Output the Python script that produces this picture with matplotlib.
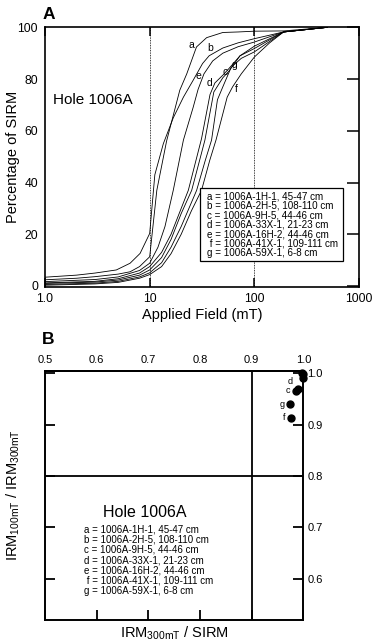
import numpy as np
import matplotlib
matplotlib.use("Agg")
import matplotlib.pyplot as plt
from matplotlib.patches import Rectangle

plt.rcParams["font.family"] = ["Liberation Sans", "DejaVu Sans"]
plt.rcParams["mathtext.default"] = "regular"

# ── Panel A: IRM acquisition curves (applied field in mT, % of SIRM) ──
field_a = [1, 2, 3, 5, 6.5, 8, 10, 11.7, 14.5, 19.4, 22.6, 28, 35, 50, 70, 100, 190, 500]
pct_a = [2.4, 3.0, 3.6, 4.6, 5.5, 7.5, 11.3, 37, 56, 75.7, 82, 92.4, 96, 98, 98.2, 98.5, 98.6, 100]

field_b = [1, 2, 3, 4.8, 6.5, 8.1, 10, 11.2, 13.5, 16.8, 21, 26, 32, 37, 50, 70, 100, 190, 500]
pct_b = [3.4, 4.2, 5.0, 6.2, 8.8, 12.6, 20.3, 43, 55, 65, 73, 79.5, 86, 89, 92, 94, 95.6, 98.2, 100]

field_c = [1, 3, 5, 8, 10, 13, 16, 20, 25.2, 30, 33.7, 41, 50, 57, 73, 100, 190, 500]
pct_c = [1.0, 1.5, 2.3, 4.2, 6.2, 11, 18, 28, 37, 48.6, 56.4, 75, 80.5, 83, 89, 91.8, 98.2, 100]

field_d = [1, 3, 5, 8, 10, 13, 16, 20, 23.4, 27.7, 31.3, 37.7, 42, 50, 57, 73, 100, 190, 500]
pct_d = [1.2, 1.8, 2.8, 5, 7.5, 13, 20, 30, 37, 48.6, 57, 74, 78.5, 81.5, 84, 89, 92.7, 98.2, 100]

field_e = [1, 3, 5, 8, 10, 12, 14, 16.8, 21, 26, 29, 33, 40, 50, 70, 100, 190, 500]
pct_e = [1.7, 2.5, 3.5, 6, 8.8, 15, 23, 37, 56.4, 69, 76, 82, 87, 90, 92.5, 94.3, 98.2, 100]

field_f = [1, 3, 5, 8, 10, 13, 16, 20, 25, 31.3, 37.5, 43, 55, 62, 75, 100, 140, 190, 500]
pct_f = [0.3, 0.8, 1.4, 3, 4.4, 7.5, 12.5, 20, 29, 37, 48.6, 56.4, 73, 77, 82, 88.5, 94, 98.2, 100]

field_g = [1, 3, 5, 8, 10, 13, 16, 20, 28.1, 34, 39, 44.4, 50, 60, 75, 100, 190, 500]
pct_g = [0.6, 1.1, 1.8, 3.5, 5.1, 9, 15, 23, 37, 48.6, 56.4, 72, 77, 84.5, 88, 90.5, 98.2, 100]

sample_keys = ["a", "b", "c", "d", "e", "f", "g"]
sample_names = [
    "1006A-1H-1, 45-47 cm",
    "1006A-2H-5, 108-110 cm",
    "1006A-9H-5, 44-46 cm",
    "1006A-33X-1, 21-23 cm",
    "1006A-16H-2, 44-46 cm",
    "1006A-41X-1, 109-111 cm",
    "1006A-59X-1, 6-8 cm",
]

# ── Panel B: IRM ratios ──
irm300_sirm = [0.997, 0.999, 0.9855, 0.990, 1.000, 0.976, 0.975]
irm100_irm300 = [1.000, 0.998, 0.9655, 0.9695, 0.990, 0.9135, 0.940]
labelled_b = ["c", "d", "f", "g"]

x_ticks_a = [1, 10, 100, 1000]
x_ticklabels_a = ["1.0", "10", "100", "1000"]
y_ticks_a = [0, 20, 40, 60, 80, 100]
ticks_b = [0.5, 0.6, 0.7, 0.8, 0.9, 1.0]

curves = {
    "a": (field_a, pct_a), "b": (field_b, pct_b), "c": (field_c, pct_c),
    "d": (field_d, pct_d), "e": (field_e, pct_e), "f": (field_f, pct_f),
    "g": (field_g, pct_g),
}
legend_text = "\n".join(
    (" " if k == "f" else "") + f"{k} = {n}" for k, n in zip(sample_keys, sample_names)
)

fig = plt.figure(figsize=(3.77, 6.44), dpi=100)

# ── Panel A ──
ax = fig.add_axes([0.1194, 0.5539, 0.8329, 0.4037])
for k in sample_keys:
    fx, py = curves[k]
    ax.plot(fx, py, color="black", lw=0.6)
ax.axvline(10, color="black", lw=0.6, ls=(0, (1, 1)))
ax.axvline(100, color="black", lw=0.6, ls=(0, (1, 1)))
ax.set_xscale("log")
ax.set_xlim(1, 1000)
ax.set_ylim(-0.5, 100)
ax.set_xticks(x_ticks_a)
ax.set_xticklabels(x_ticklabels_a)
ax.xaxis.set_minor_locator(matplotlib.ticker.NullLocator())
ax.set_yticks(y_ticks_a)
ax.tick_params(axis="x", direction="in", top=True, length=6.5, width=1.1, labelsize=8.7, pad=4)
ax.tick_params(axis="y", direction="in", left=False, right=True, length=9, width=1.1,
               labelsize=8.7, pad=5)
for s in ax.spines.values():
    s.set_linewidth(1.2)
ax.set_xlabel("Applied Field (mT)", fontsize=10.5, labelpad=2)
ax.set_ylabel("Percentage of SIRM", fontsize=10.5)
ax.yaxis.set_label_coords(-0.08, 0.5)
ax.text(1.19, 71.8, "Hole 1006A", fontsize=11, va="center")

label_xy = {"a": (24.8, 93.3), "b": (37.7, 92), "e": (29.1, 81.1), "d": (37.1, 78.5),
            "c": (52.4, 82.7), "g": (64.3, 85.3), "f": (66.7, 76.3)}
for k, (lx, ly) in label_xy.items():
    ax.text(lx, ly, k, fontsize=7.5, ha="center", va="center")

ax.add_patch(Rectangle((0.494, 0.103), 0.455, 0.278, transform=ax.transAxes,
                       fc="white", ec="black", lw=0.9, zorder=4))
ax.text(0.515, 0.370, legend_text, transform=ax.transAxes, fontsize=7.1,
        va="top", ha="left", linespacing=0.94, zorder=5)
fig.text(0.114, 0.978, "A", fontsize=12.5, fontweight="bold", va="center", ha="left")

# ── Panel B ──
bx = fig.add_axes([0.1194, 0.0373, 0.6851, 0.3871])
bx.axvline(0.9, color="black", lw=1.3)
bx.axhline(0.8, color="black", lw=1.3)
bx.plot(irm300_sirm, irm100_irm300, "o", color="black", ms=5, clip_on=False, zorder=5)
for k, xv, yv in zip(sample_keys, irm300_sirm, irm100_irm300):
    if k in labelled_b:
        dy = 5 if k == "d" else 0
        bx.annotate(k, (xv, yv), xytext=(-4, dy), textcoords="offset points",
                    fontsize=6.5, ha="right", va="center")
bx.set_xlim(0.5, 1.0)
bx.set_ylim(0.52, 1.005)
bx.set_xticks(ticks_b)
bx.set_yticks(ticks_b[1:])
bx.tick_params(axis="x", direction="in", bottom=True, labelbottom=False, length=7, width=1.3)
bx.tick_params(axis="y", direction="in", left=True, right=True, labelleft=False,
               labelright=True, length=7, width=1.3, labelsize=8, pad=3)
top = bx.secondary_xaxis("top")
top.set_xticks(ticks_b)
top.tick_params(length=0, labelsize=8, pad=4)
for s in list(bx.spines.values()) + list(top.spines.values()):
    s.set_linewidth(1.4)
bx.set_xlabel("IRM$_{300mT}$ / SIRM", fontsize=10.5, labelpad=3)
bx.set_ylabel("IRM$_{100mT}$ / IRM$_{300mT}$", fontsize=10.5)
bx.yaxis.set_label_coords(-0.09, 0.5)
bx.text(0.693, 0.730, "Hole 1006A", fontsize=11.5, ha="center", va="center")
bx.text(0.5755, 0.706, legend_text, fontsize=7.0, ha="left", va="top", linespacing=1.03)
fig.text(0.112, 0.4736, "B", fontsize=12.5, fontweight="bold", va="center", ha="left")

fig.savefig("out.png", dpi=100)
